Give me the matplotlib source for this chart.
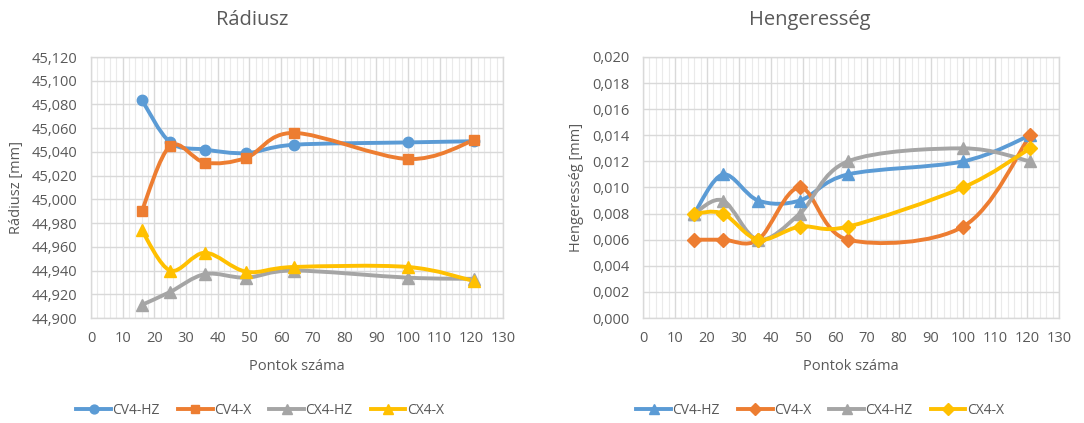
import numpy as np
import matplotlib
matplotlib.use("Agg")
import matplotlib.pyplot as plt
from matplotlib.path import Path
from matplotlib.patches import PathPatch
from matplotlib.lines import Line2D
from matplotlib.ticker import MultipleLocator, FuncFormatter

plt.rcParams['font.family'] = ['Open Sans', 'DejaVu Sans']

TEXT = '#595959'
GRID = '#D9D9D9'
MINOR = '#EAEAEA'

# measurement points (number of points)
points = [16, 25, 36, 49, 64, 100, 121]
series_names = ['CV4-HZ', 'CV4-X', 'CX4-HZ', 'CX4-X']
colors = ['#5B9BD5', '#ED7D31', '#A5A5A5', '#FFC000']

# radius [mm]
radius_cv4_hz = [45.084, 45.048, 45.042, 45.039, 45.046, 45.048, 45.049]
radius_cv4_x = [44.990, 45.045, 45.031, 45.035, 45.056, 45.034, 45.050]
radius_cx4_hz = [44.911, 44.922, 44.937, 44.934, 44.940, 44.934, 44.933]
radius_cx4_x = [44.974, 44.940, 44.955, 44.939, 44.943, 44.943, 44.931]

# cylindricity [mm]
cyl_cv4_hz = [0.008, 0.011, 0.009, 0.009, 0.011, 0.012, 0.014]
cyl_cv4_x = [0.006, 0.006, 0.006, 0.010, 0.006, 0.007, 0.014]
cyl_cx4_hz = [0.008, 0.009, 0.006, 0.008, 0.012, 0.013, 0.012]
cyl_cx4_x = [0.008, 0.008, 0.006, 0.007, 0.007, 0.010, 0.013]

radius_series = [radius_cv4_hz, radius_cv4_x, radius_cx4_hz, radius_cx4_x]
cyl_series = [cyl_cv4_hz, cyl_cv4_x, cyl_cx4_hz, cyl_cx4_x]
radius_markers = ['o', 's', '^', '^']
cyl_markers = ['^', 'D', '^', 'D']


def smooth_path(x, y):
    """Bezier path through the points (Catmull-Rom style tangents)."""
    p = np.column_stack([x, y]).astype(float)
    ext = np.vstack([p[0], p, p[-1]])
    verts = [p[0]]
    codes = [Path.MOVETO]
    for i in range(len(p) - 1):
        p0, p1, p2, p3 = ext[i], ext[i + 1], ext[i + 2], ext[i + 3]
        c1 = p1 + (p2 - p0) / 6.0
        c2 = p2 - (p3 - p1) / 6.0
        verts += [c1, c2, p2]
        codes += [Path.CURVE4] * 3
    return Path(verts, codes)


W, H = 1084, 423
fig = plt.figure(figsize=(W / 100, H / 100), dpi=100)


def make_axes(rect_px, ylim, ystep, fmt, ylabel, data, markers, msizes,
              title, title_x, ylabel_x, legend_x):
    l, t, r, b = rect_px
    ax = fig.add_axes([l / W, (H - b) / H, (r - l) / W, (b - t) / H])
    ax.set_xlim(0, 130)
    ax.set_ylim(*ylim)
    ax.xaxis.set_major_locator(MultipleLocator(10))
    ax.xaxis.set_minor_locator(MultipleLocator(2))
    ax.yaxis.set_major_locator(MultipleLocator(ystep))
    ax.yaxis.set_major_formatter(FuncFormatter(fmt))
    ax.grid(which='minor', axis='x', color=MINOR, lw=0.8)
    ax.grid(which='major', axis='both', color=GRID, lw=1.0)
    ax.set_axisbelow(True)
    for s in ax.spines.values():
        s.set_color(GRID)
        s.set_linewidth(1.0)
    ax.tick_params(which='both', length=0, colors=TEXT, labelsize=10.5)
    ax.tick_params(axis='y', pad=10)
    ax.tick_params(axis='x', pad=9)
    handles = []
    for vals, c, m, ms, name in zip(data, colors, markers, msizes, series_names):
        ax.add_patch(PathPatch(smooth_path(points, vals), fill=False,
                               edgecolor=c, lw=2.8, capstyle='round',
                               joinstyle='round', zorder=3))
        ax.plot(points, vals, linestyle='none', marker=m, ms=ms,
                color=c, zorder=4)
        handles.append(Line2D([], [], color=c, lw=2.8, marker=m, ms=ms * 0.85))
    fig.text(title_x / W, 1 - 20 / H, title, ha='center', va='center',
             fontsize=14.5, color=TEXT)
    fig.text(ylabel_x / W, (H - (t + b) / 2) / H, ylabel, rotation=90,
             ha='center', va='center', fontsize=10.5, color=TEXT)
    fig.text(((l + r) / 2) / W, 1 - 366 / H, 'Pontok száma', ha='center',
             va='center', fontsize=10.5, color=TEXT)
    fig.legend(handles=handles, labels=series_names, loc='center',
               bbox_to_anchor=(legend_x / W, 1 - 410 / H), ncol=4,
               frameon=False, fontsize=10, handlelength=2.5,
               columnspacing=1.3, handletextpad=0.1, labelcolor=TEXT)
    return ax


make_axes((91, 57, 503, 318), (44.900, 45.120), 0.020,
          lambda v, _: f"{v:.3f}".replace('.', ','), 'Rádiusz [mm]',
          radius_series, radius_markers, [7.5, 7.5, 8.5, 8.5],
          'Rádiusz', 252, 17, 260)

make_axes((643, 57, 1059, 318), (0.0, 0.020), 0.002,
          lambda v, _: f"{v:.3f}".replace('.', ','), 'Hengeresség [mm]',
          cyl_series, cyl_markers, [8.5, 7, 8.5, 7],
          'Hengeresség', 810, 577, 820)

fig.savefig('out.png', dpi=100)
